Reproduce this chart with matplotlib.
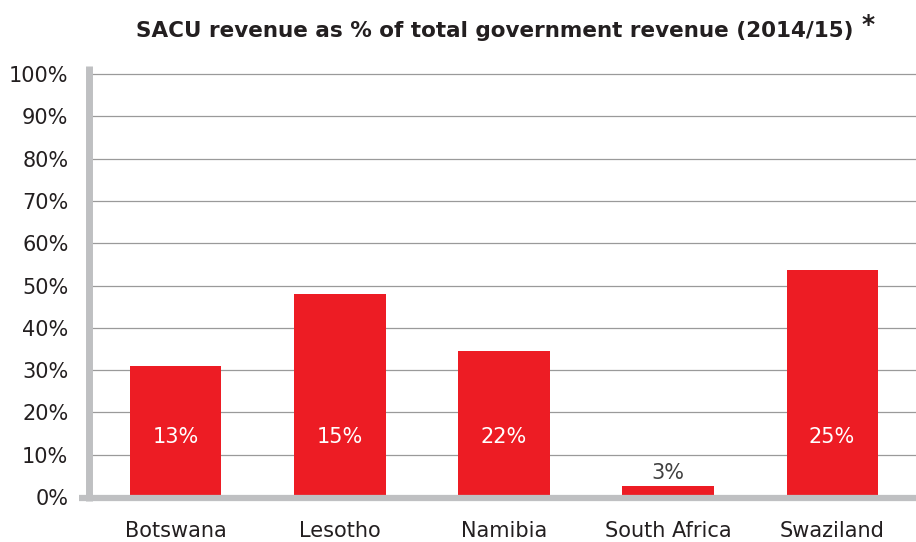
import matplotlib
matplotlib.use("Agg")
import matplotlib.pyplot as plt
from matplotlib.lines import Line2D

categories = ["Botswana", "Lesotho", "Namibia", "South Africa", "Swaziland"]
values = [31.0, 48.0, 34.5, 2.6, 53.7]
bar_labels = ["13%", "15%", "22%", "3%", "25%"]
yticks = [0, 10, 20, 30, 40, 50, 60, 70, 80, 90, 100]
ytick_labels = [f"{v}%" for v in yticks]
title = "SACU revenue as % of total government revenue (2014/15)"

plt.rcParams['font.family'] = ['DejaVu Sans']
TXT = "#231f20"
RED = "#ed1c24"

fig = plt.figure(figsize=(9.16, 5.42), dpi=100)
ax = fig.add_axes([92/916, 1-497/542, 1-92/916, (497-74)/542])

x = list(range(len(categories)))
ax.bar(x, values, width=0.555, color=RED, zorder=3)
ax.set_xlim(-0.512, 4.512)
ax.set_ylim(0, 100)

for i, (v, lab) in enumerate(zip(values, bar_labels)):
    if v > 20:
        ax.text(i, 14.3, lab, ha="center", va="center", color="white",
                fontsize=15, zorder=4)
    else:
        ax.text(i, v + 0.6, lab, ha="center", va="bottom", color="#404040",
                fontsize=15, zorder=4)

ax.set_yticks(yticks)
ax.set_yticklabels(ytick_labels, fontsize=15, color=TXT)
ax.set_xticks(x)
ax.set_xticklabels(categories, fontsize=15, color=TXT)
ax.tick_params(axis="y", length=0, pad=17)
ax.tick_params(axis="x", length=0, pad=17)

for s in ax.spines.values():
    s.set_visible(False)
ax.yaxis.grid(True, color="#9a9a9a", linewidth=0.9, zorder=1)
ax.set_axisbelow(True)
for gl in ax.get_ygridlines():
    gl.set_clip_on(False)

# thick grey axis lines
ax.add_line(Line2D([-3.5/824, -3.5/824], [-4/423, 1 + 8/423], transform=ax.transAxes,
                   color="#bfc0c2", linewidth=5.0, clip_on=False, zorder=5,
                   solid_capstyle="butt"))
ax.add_line(Line2D([-13/824, 1.0], [-1/423, -1/423], transform=ax.transAxes,
                   color="#bfc0c2", linewidth=4.5, clip_on=False, zorder=5,
                   solid_capstyle="butt"))

fig.text(495/916, 1-31/542, title, ha="center", va="center",
         fontsize=15.5, fontweight="bold", color=TXT)
fig.text(862/916, 1-25/542, "*", ha="left", va="center",
         fontsize=18, fontweight="bold", color=TXT)

fig.savefig("out.png", dpi=100)
